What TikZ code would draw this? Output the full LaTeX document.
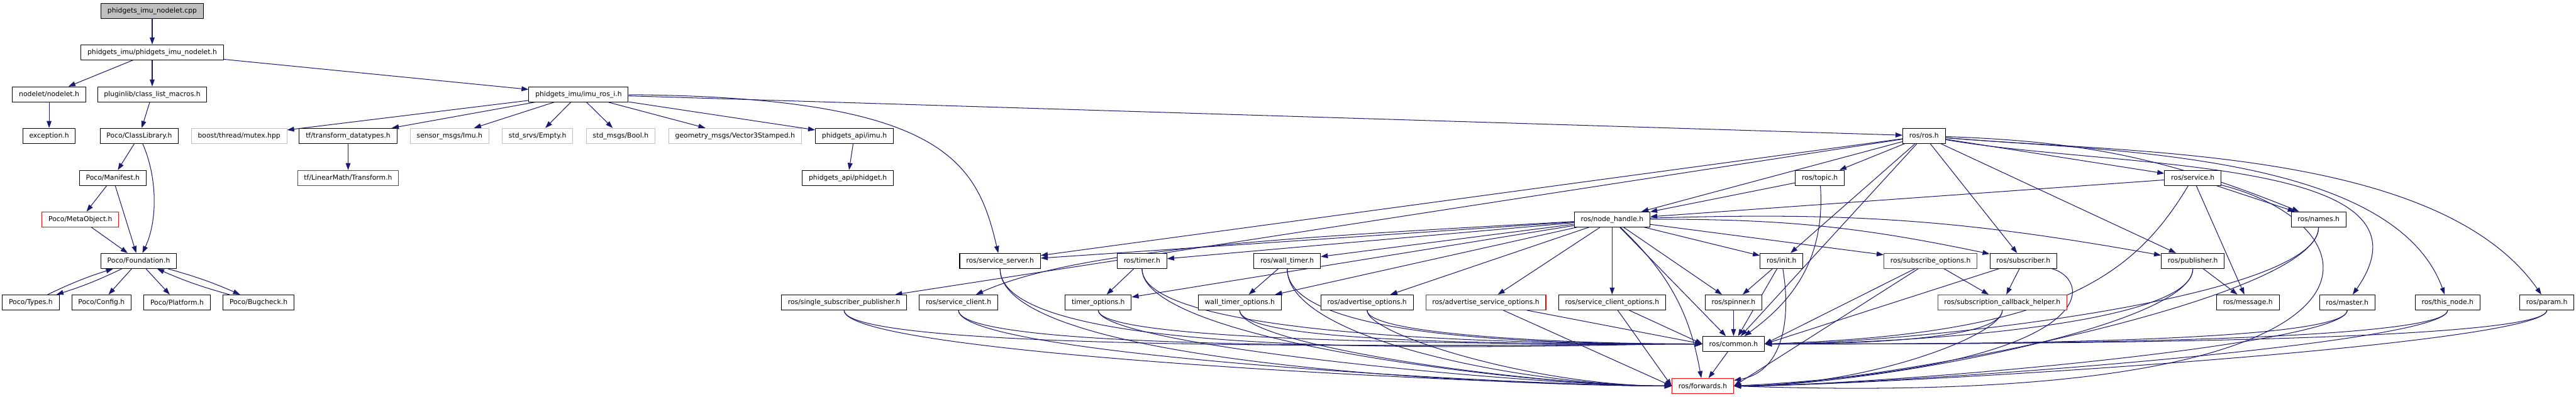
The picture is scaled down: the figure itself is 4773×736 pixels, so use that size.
\documentclass[tikz,border=0pt]{standalone}
\usepackage{fontspec}
\setmainfont{DejaVu Sans}
\usetikzlibrary{arrows.meta,backgrounds,calc}
\definecolor{cedge}{RGB}{25,25,112}
\definecolor{cgrey}{RGB}{191,191,191}
\definecolor{cred}{RGB}{255,0,0}
\tikzset{incbox/.style={draw=black,fill=white,line width=0.6pt,minimum height=14pt,inner xsep=6pt,inner ysep=0pt,font=\fontsize{6.3}{7.5}\selectfont},
  extbox/.style={incbox,draw=cgrey},
  redbox/.style={incbox,draw=cred},
  rootbox/.style={incbox,fill=cgrey},
  dep/.style={draw=cedge,line width=0.6pt,-{Triangle[length=6.5pt,width=4.5pt]}},
  lowl/.style={to path={.. controls ($(\tikztostart)+(0,-#1)$) and ($(\tikztotarget)+(-250,0)$) .. (\tikztotarget)}},
  lowr/.style={to path={.. controls ($(\tikztostart)+(0,-#1)$) and ($(\tikztotarget)+(250,0)$) .. (\tikztotarget)}}}

\begin{document}
\begin{tikzpicture}[x=0.5pt,y=0.5pt]
    \def\ya{-20}\def\yb{-97}\def\yc{-175}\def\yd{-252}\def\ye{-330}
    \def\yf{-407}\def\yg{-484}\def\yh{-561}\def\yi{-638}\def\yj{-716}
    \useasboundingbox (0,0) rectangle (4773,-736);
    \node[rootbox] (cpp) at (282,\ya) {phidgets\_imu\_nodelet.cpp};
    \node[incbox] (nodeleth) at (282,\yb) {phidgets\_imu/phidgets\_imu\_nodelet.h};
    \node[incbox] (nodelet) at (91,\yc) {nodelet/nodelet.h};
    \node[incbox] (clm) at (282,\yc) {pluginlib/class\_list\_macros.h};
    \node[incbox] (imuros) at (1072,\yc) {phidgets\_imu/imu\_ros\_i.h};
    \node[incbox] (exc) at (91,\yd) {exception.h};
    \node[incbox] (classlib) at (258,\yd) {Poco/ClassLibrary.h};
    \node[extbox] (mutex) at (443,\yd) {boost/thread/mutex.hpp};
    \node[incbox] (tfdt) at (645,\yd) {tf/transform\_datatypes.h};
    \node[extbox] (imu) at (833,\yd) {sensor\_msgs/Imu.h};
    \node[extbox] (empty) at (996,\yd) {std\_srvs/Empty.h};
    \node[extbox] (bool) at (1150,\yd) {std\_msgs/Bool.h};
    \node[extbox] (vec3) at (1362,\yd) {geometry\_msgs/Vector3Stamped.h};
    \node[incbox] (apiimu) at (1583,\yd) {phidgets\_api/imu.h};
    \node[incbox] (rosh) at (3565,\yd) {ros/ros.h};
    \node[redbox] (transform) at (645,\ye) {tf/LinearMath/Transform.h};
    \node[incbox] (manifest) at (209,\ye) {Poco/Manifest.h};
    \node[incbox] (phidget) at (1571,\ye) {phidgets\_api/phidget.h};
    \node[incbox] (topic) at (3372,\ye) {ros/topic.h};
    \node[incbox] (service) at (4063,\ye) {ros/service.h};
    \node[redbox] (metaobj) at (149,\yf) {Poco/MetaObject.h};
    \node[incbox] (nh) at (2987,\yf) {ros/node\_handle.h};
    \node[incbox] (names) at (4296,\yf) {ros/names.h};
    \node[incbox] (foundation) at (257,\yg) {Poco/Foundation.h};
    \node[incbox] (srvserver) at (1853,\yg) {ros/service\_server.h};
    \node[incbox] (timer) at (2116,\yg) {ros/timer.h};
    \node[incbox] (walltimer) at (2385,\yg) {ros/wall\_timer.h};
    \node[incbox] (init) at (3301,\yg) {ros/init.h};
    \node[redbox] (subopts) at (3577,\yg) {ros/subscribe\_options.h};
    \node[incbox] (subscriber) at (3749,\yg) {ros/subscriber.h};
    \node[incbox] (publisher) at (4063,\yg) {ros/publisher.h};
    \node[incbox] (types) at (57,\yh) {Poco/Types.h};
    \node[incbox] (config) at (188,\yh) {Poco/Config.h};
    \node[incbox] (platform) at (328,\yh) {Poco/Platform.h};
    \node[incbox] (bugcheck) at (479,\yh) {Poco/Bugcheck.h};
    \node[incbox] (ssp) at (1564,\yh) {ros/single\_subscriber\_publisher.h};
    \node[incbox] (srvclient) at (1776,\yh) {ros/service\_client.h};
    \node[incbox] (timeropts) at (2035,\yh) {timer\_options.h};
    \node[incbox] (walltimeropts) at (2297,\yh) {wall\_timer\_options.h};
    \node[incbox] (advopts) at (2533,\yh) {ros/advertise\_options.h};
    \node[redbox] (advsrvopts) at (2753,\yh) {ros/advertise\_service\_options.h};
    \node[incbox] (srvclientopts) at (2987,\yh) {ros/service\_client\_options.h};
    \node[incbox] (spinner) at (3212,\yh) {ros/spinner.h};
    \node[redbox] (sch) at (3710,\yh) {ros/subscription\_callback\_helper.h};
    \node[incbox] (message) at (4165,\yh) {ros/message.h};
    \node[incbox] (master) at (4349,\yh) {ros/master.h};
    \node[incbox] (thisnode) at (4535,\yh) {ros/this\_node.h};
    \node[incbox] (param) at (4719,\yh) {ros/param.h};
    \node[incbox] (common) at (3212,\yi) {ros/common.h};
    \node[redbox] (forwards) at (3155,\yj) {ros/forwards.h};
    \begin{pgfonlayer}{background}
    \draw[dep] (cpp) -- (nodeleth);
    \foreach \tg in {nodelet,clm,imuros} \draw[dep] (nodeleth) -- (\tg);
    \draw[dep] (nodelet) -- (exc);
    \draw[dep] (clm) -- (classlib);
    \draw[dep] (classlib) -- (manifest);
    \draw[dep] (classlib) .. controls (292,-330) and (292,-410) .. (foundation);
    \draw[dep] (manifest) -- (metaobj);
    \draw[dep] (manifest) -- (foundation);
    \draw[dep] (metaobj) -- (foundation);
    \foreach \tg in {types,bugcheck} {
      \draw[dep] (foundation) to[bend left=4] (\tg);
      \draw[dep] (\tg) to[bend left=4] (foundation);
    }
    \foreach \tg in {config,platform} \draw[dep] (foundation) -- (\tg);
    \foreach \tg in {mutex,tfdt,imu,empty,bool,vec3,apiimu,rosh} \draw[dep] (imuros) -- (\tg);
    \draw[dep] (imuros) .. controls (1750,-180) and (1810,-300) .. (srvserver);
    \draw[dep] (tfdt) -- (transform);
    \draw[dep] (apiimu) -- (phidget);
    \foreach \tg in {topic,nh,init,service,subscriber,publisher,ssp,srvserver,common} \draw[dep] (rosh) -- (\tg);
    \draw[dep] (rosh) to[bend left=10] (names);
    \draw[dep] (rosh) to[out=-10,in=55] (master);
    \draw[dep] (rosh) to[out=-5,in=110,looseness=0.75] (thisnode);
    \draw[dep] (rosh) to[out=-5,in=125,looseness=0.75] (param);
    \draw[dep] (topic) -- (nh);
    \draw[dep] (topic) .. controls (3382,-480) and (3322,-558) .. (common);
    \foreach \tg in {nh,names,message} \draw[dep] (service) -- (\tg);
    \draw[dep] (service) .. controls (3950,-520) and (3800,-620) .. (common.east);
    \draw[dep] (service) .. controls (4420,-420) and (4500,-760) .. (forwards.east);
    \foreach \tg in {srvserver,timer,walltimer,timeropts,walltimeropts,advopts,advsrvopts,srvclientopts,spinner,init,subopts,common} \draw[dep] (nh) -- (\tg);
    \draw[dep] (nh) .. controls (2400,-440) and (2000,-460) .. (srvclient);
    \draw[dep] (nh) to[bend left=6] (subscriber);
    \draw[dep] (nh) to[bend left=6] (publisher);
    \draw[dep] (nh) to[bend left=18] (forwards);
    \draw[dep] (timer) -- (timeropts);
    \draw[dep] (walltimer) -- (walltimeropts);
    \foreach \sr/\h in {timer/150,walltimer/150,srvserver/200,ssp/100,srvclient/100,timeropts/80,walltimeropts/80,advopts/60} {
      \draw[dep] (\sr) to[lowl=\h] (common.west);
      \draw[dep] (\sr) to[lowl=\h] (forwards.west);
    }
    \foreach \sr in {advsrvopts,srvclientopts} {
      \draw[dep] (\sr) -- (common.west);
      \draw[dep] (\sr) -- (forwards.west);
    }
    \draw[dep] (init) -- (spinner);
    \draw[dep] (init) -- (common);
    \draw[dep] (init) .. controls (3320,-600) and (3300,-690) .. (forwards);
    \draw[dep] (spinner) -- (common);
    \draw[dep] (subopts) -- (sch);
    \draw[dep] (subopts) -- (common.east);
    \draw[dep] (subopts) -- (forwards.east);
    \draw[dep] (subscriber) -- (sch);
    \draw[dep] (subscriber) -- (common.east);
    \draw[dep] (subscriber) .. controls (3880,-520) and (3900,-680) .. (forwards.east);
    \draw[dep] (publisher) -- (message);
    \foreach \sr/\h in {publisher/120,sch/60,names/150,master/80,thisnode/80,param/80} {
      \draw[dep] (\sr) to[lowr=\h] (common.east);
      \draw[dep] (\sr) to[lowr=\h] (forwards.east);
    }
    \draw[dep] (common) -- (forwards);
    \end{pgfonlayer}
\end{tikzpicture}
\end{document}
